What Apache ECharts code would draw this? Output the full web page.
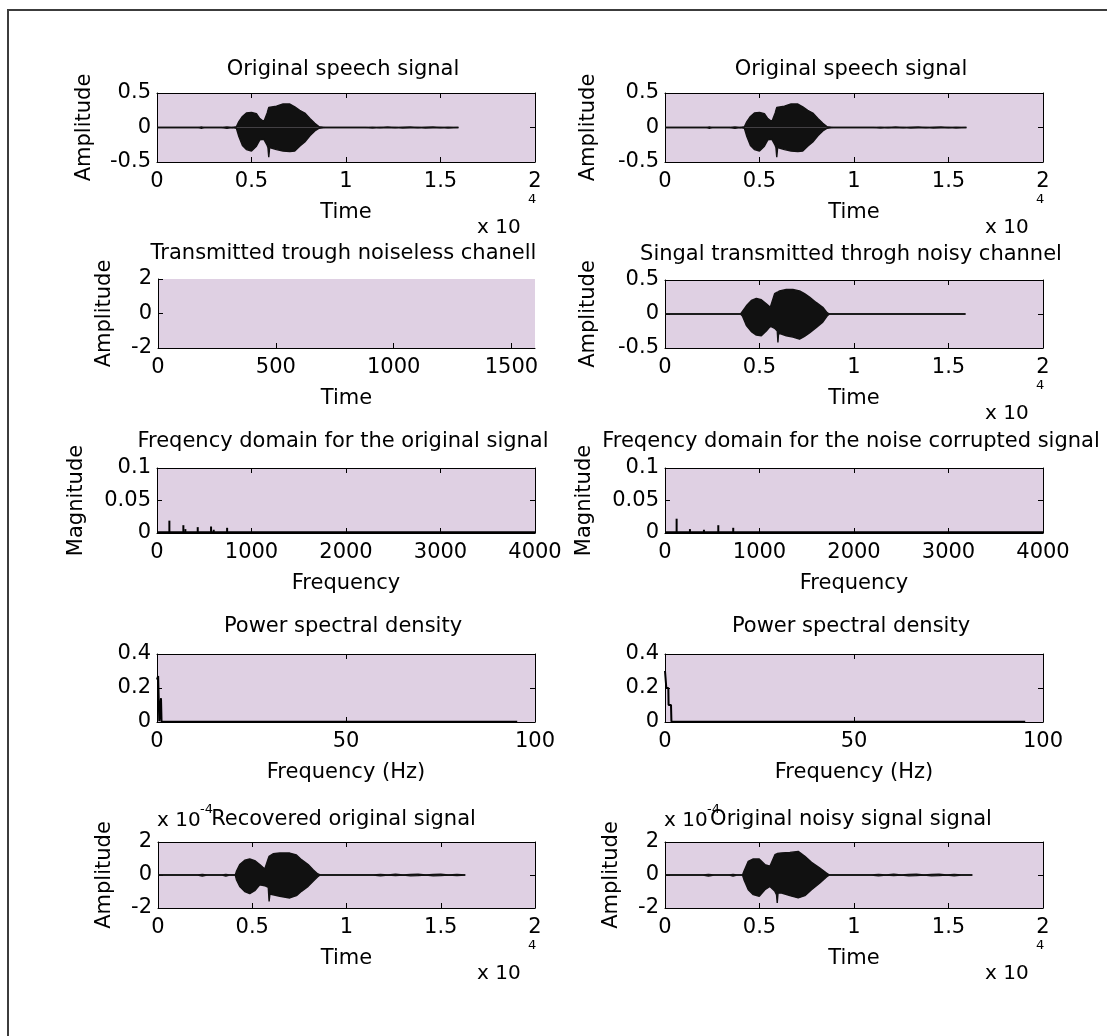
<!DOCTYPE html>
<html><head><meta charset="utf-8">
<script src="https://cdn.jsdelivr.net/npm/echarts@6/dist/echarts.min.js"></script>
<style>html,body{margin:0;padding:0;background:#fff;}#c{width:1107px;height:1036px;}</style>
</head><body><div id="c"></div>
<script>
// ---------- data ----------
const titles = ['Original speech signal','Original speech signal','Transmitted trough noiseless chanell','Singal transmitted throgh noisy channel','Freqency domain for the original signal','Freqency domain for the noise corrupted signal','Power spectral density','Power spectral density','Recovered original signal','Original noisy signal signal'];
const xNames = ['Time','Time','Time','Time','Frequency','Frequency','Frequency (Hz)','Frequency (Hz)','Time','Time'];
const yNames = ['Amplitude','Amplitude','Amplitude','Amplitude','Magnitude','Magnitude','','','Amplitude','Amplitude'];
const xExpText = 'x 10', xExpSup = '4';
const yExpText = 'x 10', yExpSup = '-4';

// original speech envelope (samples, amplitude)
const origT  = [0,950,1000,1050,2200,2350,2500,3400,3700,4000,4200,4330,4520,4730,5000,5260,5440,5650,5830,5870,5913,5960,6320,6670,7030,7290,7550,7820,8090,8350,8580,8900,9000,9100,11000,11400,11800,12200,12600,13000,13400,13800,14200,14600,15000,15400,15950];
const origUp = [0,0,0.005,0,0,0.008,0,0,0.008,0,0.01,0.085,0.16,0.21,0.22,0.2,0.13,0.085,0.21,0.25,0.29,0.29,0.31,0.34,0.34,0.3,0.25,0.21,0.13,0.06,0.01,0,0.008,0,0,0.006,0,0.008,0,0.006,0.008,0,0.006,0.008,0,0.006,0];
const origLo = [0,0,-0.02,0,0,-0.012,0,0,-0.012,0,-0.01,-0.13,-0.26,-0.32,-0.34,-0.27,-0.18,-0.17,-0.26,-0.29,-0.43,-0.29,-0.32,-0.34,-0.35,-0.34,-0.27,-0.21,-0.12,-0.05,-0.01,0,-0.01,0,0,-0.008,0,-0.006,0,-0.008,-0.006,0,-0.008,-0.006,0,-0.008,0];

// signal through noisy channel
const noisyT  = [0,900,4000,4095,4306,4569,4833,5097,5360,5571,5800,5940,5975,6010,6063,6415,6766,7118,7381,7645,7996,8348,8576,8700,10500,10550,10900,10950,11900,12000,12500,12550,13100,13150,13700,13750,14500,14550,15900];
const noisyUp = [0,0,0,0.01,0.12,0.2,0.23,0.21,0.15,0.1,0.3,0.32,0.33,0.33,0.34,0.36,0.36,0.34,0.3,0.25,0.17,0.1,0.02,0,0,0.02,0,0.02,0,0.02,0,0.02,0,0.02,0,0.02,0,0.02,0];
const noisyLo = [0,0,0,-0.03,-0.17,-0.26,-0.31,-0.32,-0.25,-0.18,-0.21,-0.25,-0.42,-0.28,-0.3,-0.32,-0.34,-0.37,-0.33,-0.28,-0.2,-0.12,-0.03,0,0,-0.01,0,-0.01,0,-0.01,0,-0.01,0,-0.01,0,-0.01,0,-0.01,0];

// recovered original signal (scaled units)
const recT  = [0,950,1000,1050,2100,2350,2600,3400,3600,3800,4100,4159,4336,4602,4867,5133,5398,5664,5850,5894,5940,6106,6460,6991,7345,7611,7965,8230,8460,8600,9000,9100,11400,11800,12200,12600,13000,13400,13800,14200,14600,15000,15400,15860,16300];
const recUp = [0,0,0.05,0,0,0.04,0,0,0.04,0,0,0.22,0.63,0.9,0.97,0.87,0.63,0.36,1.0,1.13,1.2,1.29,1.33,1.33,1.21,0.93,0.63,0.32,0.08,0,0,0.04,0,0.04,0,0.05,0,0.04,0.05,0,0.04,0.05,0,0.04,0];
const recLo = [0,0,-0.1,0,0,-0.06,0,0,-0.06,0,0,-0.28,-0.69,-1.0,-1.13,-0.95,-0.6,-0.65,-0.75,-1.6,-1.15,-1.2,-1.29,-1.39,-1.25,-0.99,-0.69,-0.38,-0.12,0,0,-0.04,0,-0.05,0,-0.04,0,-0.05,-0.04,0,-0.05,-0.04,0,-0.04,0];

// original noisy signal (scaled units)
const nrT  = [0,950,1000,1050,2000,2300,2600,3400,3600,3800,4100,4176,4405,4670,4987,5286,5551,5815,5900,5938,5980,6167,6608,7048,7401,7753,8194,8546,8700,10900,11300,11700,12100,12500,12900,13300,13700,14100,14500,14900,15300,15700,16260];
const nrUp = [0,0,0.05,0,0,0.04,0,0,0.04,0,0,0.22,0.83,0.97,0.97,0.63,0.53,1.23,1.28,1.3,1.3,1.33,1.37,1.43,1.13,0.77,0.42,0.12,0,0,0.04,0,0.05,0,0.04,0.05,0,0.04,0.05,0,0.04,0,0];
const nrLo = [0,0,-0.1,0,0,-0.06,0,0,-0.06,0,0,-0.28,-0.89,-1.19,-1.29,-0.89,-0.69,-0.99,-1.2,-1.7,-1.1,-1.09,-1.25,-1.39,-1.25,-0.89,-0.48,-0.12,0,0,-0.05,0,-0.04,0,-0.05,-0.04,0,-0.05,-0.04,0,-0.05,0,0];

// frequency domain
const specOrigF  = [131,279,300,431,572,600,742];
const specOrigM  = [0.019,0.012,0.006,0.009,0.010,0.005,0.008];
const specNoisyF = [123,264,412,564,722];
const specNoisyM = [0.022,0.006,0.005,0.012,0.008];
const specBaseF  = [0,4000];
const specBaseM  = [0.0008,0.0008];

// power spectral density
const psdOrigF  = [0,0.3,0.45,0.6,0.9,1.06,1.2,2,20,50,95.3];
const psdOrigP  = [0.25,0.27,0.26,0.005,0.005,0.14,0.003,0.002,0.001,0.001,0.001];
const psdNoisyF = [0,0.26,0.35,0.88,0.95,1.59,1.7,20,50,95.3];
const psdNoisyP = [0.3,0.29,0.2,0.2,0.1,0.1,0.003,0.001,0.001,0.001];

// ---------- layout & style ----------
const FONT = '"DejaVu Sans"';
const FS = 21;
const BG = '#dfd0e3';
const rects = [[157,93,378,69],[665,93,378,69],[158,279,377,69],[665,280,378,68],[157,468,378,65],[665,468,378,65],[157,654,378,68],[665,654,378,68],[158,842,377,66],[665,842,378,66]];
const e4 = v => String(v/10000);
const plain = v => String(v);
const xCfg = [
  {min:0,max:20000,interval:5000,fmt:e4},{min:0,max:20000,interval:5000,fmt:e4},
  {min:0,max:1600,interval:500,custom:[0,500,1000,1500]},{min:0,max:20000,interval:5000,fmt:e4},
  {min:0,max:4000,interval:1000},{min:0,max:4000,interval:1000},
  {min:0,max:100,interval:50},{min:0,max:100,interval:50},
  {min:0,max:20000,interval:5000,fmt:e4},{min:0,max:20000,interval:5000,fmt:e4}];
const yCfg = [
  {min:-0.5,max:0.5,interval:0.5},{min:-0.5,max:0.5,interval:0.5},
  {min:-2,max:2,interval:2},{min:-0.5,max:0.5,interval:0.5},
  {min:0,max:0.1,interval:0.05},{min:0,max:0.1,interval:0.05},
  {min:0,max:0.4,interval:0.2},{min:0,max:0.4,interval:0.2},
  {min:-2,max:2,interval:2},{min:-2,max:2,interval:2}];
const yGap = [62,66,43,66,70,70,0,0,43,43];
const boxed = [true,true,false,true,true,true,true,true,true,true];

const txt = {color:'#000', fontFamily:FONT, fontSize:FS};
const grid = [], xAxis = [], yAxis = [], series = [], xi = [], yi = [];
rects.forEach((r,i)=>{
  grid.push({left:r[0], top:r[1], width:r[2], height:r[3], show:true, backgroundColor:BG, borderWidth:0, containLabel:false});
  const xc = xCfg[i], yc = yCfg[i];
  const common = {type:'value', gridIndex:i, splitLine:{show:false},
    axisLine:{show:true,onZero:false,lineStyle:{color:'#000',width:1}},
    axisTick:{show:true,inside:true,length:5,lineStyle:{color:'#000',width:1}}};
  xi.push(xAxis.length);
  const xb = Object.assign({}, common, {position:'bottom', min:xc.min, max:xc.max, interval:xc.interval,
    axisLabel:Object.assign({show:true, margin:9, formatter: xc.fmt || plain}, txt),
    name:xNames[i], nameLocation:'middle', nameGap:40, nameTextStyle:txt});
  if (xc.custom) {
    xb.axisTick = Object.assign({}, common.axisTick, {customValues: xc.custom});
    xb.axisLabel = Object.assign({}, xb.axisLabel, {customValues: xc.custom});
  }
  xAxis.push(xb);
  if (boxed[i]) xAxis.push(Object.assign({}, common, {position:'top', min:xc.min, max:xc.max, interval:xc.interval, axisLabel:{show:false}}));
  yi.push(yAxis.length);
  yAxis.push(Object.assign({}, common, {position:'left', min:yc.min, max:yc.max, interval:yc.interval,
    axisLabel:Object.assign({show:true, margin:6, formatter: plain}, txt),
    name:yNames[i], nameLocation:'middle', nameGap:yGap[i], nameRotate:90, nameTextStyle:txt}));
  if (boxed[i]) yAxis.push(Object.assign({}, common, {position:'right', min:yc.min, max:yc.max, interval:yc.interval, axisLabel:{show:false}}));
});

const pairs = (a,b) => a.map((v,k)=>[v,b[k]]);
function envelope(i, T, U, L){
  [U,L].forEach(arr=>{
    series.push({type:'line', xAxisIndex:xi[i], yAxisIndex:yi[i], data:pairs(T,arr), showSymbol:false, symbol:'none',
      lineStyle:{color:'#111',width:1.4}, areaStyle:{color:'#111',opacity:1,origin:0}, silent:true, z:3});
  });
}
envelope(0, origT, origUp, origLo);
envelope(1, origT, origUp, origLo);
envelope(3, noisyT, noisyUp, noisyLo);
envelope(8, recT, recUp, recLo);
envelope(9, nrT, nrUp, nrLo);
function spectrum(i, F, M){
  series.push({type:'line', xAxisIndex:xi[i], yAxisIndex:yi[i], data:pairs(specBaseF,specBaseM), showSymbol:false, symbol:'none', lineStyle:{color:'#000',width:2.5}, silent:true, z:3});
  series.push({type:'bar', xAxisIndex:xi[i], yAxisIndex:yi[i], data:pairs(F,M), barWidth:2, itemStyle:{color:'#000'}, silent:true, z:3});
}
spectrum(4, specOrigF, specOrigM);
spectrum(5, specNoisyF, specNoisyM);
function psd(i, F, P){
  series.push({type:'line', xAxisIndex:xi[i], yAxisIndex:yi[i], data:pairs(F,P), showSymbol:false, symbol:'none', lineStyle:{color:'#000',width:2}, silent:true, z:3});
}
psd(6, psdOrigF, psdOrigP);
psd(7, psdNoisyF, psdNoisyP);

// ---------- text decorations ----------
const graphic = [];
graphic.push({type:'polyline', shape:{points:[[8,1036],[8,10],[1107,10]]}, style:{stroke:'#3c3c3c', lineWidth:2, fill:null}, silent:true});
const titleTop = [59,59,243,244,431,431,616,616,809,809];
rects.forEach((r,i)=>{
  graphic.push({type:'text', x:r[0]+r[2]/2-3, y:titleTop[i], style:{text:titles[i], font:FS+'px '+FONT, fill:'#000', align:'center', textAlign:'center', verticalAlign:'top', textVerticalAlign:'top'}, silent:true, z:10});
});
// x exponent labels
[0,1,3,8,9].forEach(i=>{
  const r = rects[i], bottom = r[1]+r[3], right = r[0]+r[2];
  graphic.push({type:'text', x:right-58, y:bottom+56, style:{text:xExpText, font:'20px '+FONT, fill:'#000'}, silent:true});
  graphic.push({type:'text', x:right-7, y:bottom+31, style:{text:xExpSup, font:'13px '+FONT, fill:'#000'}, silent:true});
});
// y exponent labels
[8,9].forEach(i=>{
  const r = rects[i];
  graphic.push({type:'text', x:r[0]-1, y:r[1]-31, style:{text:yExpText, font:'20px '+FONT, fill:'#000'}, silent:true});
  graphic.push({type:'text', x:r[0]+42, y:r[1]-39, style:{text:yExpSup, font:'13px '+FONT, fill:'#000'}, silent:true});
});

const chart = echarts.init(document.getElementById('c'), null, {renderer:'canvas'});
chart.setOption({backgroundColor:'#fff', animation:false, grid, xAxis, yAxis, series, graphic});
</script>
</body></html>
